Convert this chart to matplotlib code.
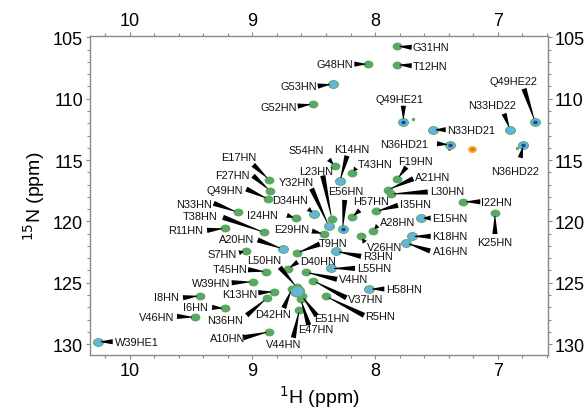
import matplotlib
matplotlib.use('Agg')
import matplotlib.pyplot as plt
import numpy as np
from matplotlib.patches import Polygon
from matplotlib.path import Path
from matplotlib.transforms import Affine2D, IdentityTransform
from matplotlib.ticker import MultipleLocator

plt.rcParams['font.family'] = ['Liberation Sans', 'DejaVu Sans']

# assigned cross peaks (1H ppm, 15N ppm), colour group: g green, c blue, b blue + dark core
names = ['G31HN', 'T12HN', 'G48HN', 'G53HN', 'G52HN', 'Q49HE21', 'N33HD21', 'N33HD22',
         'Q49HE22', 'N36HD21', 'N36HD22', 'K14HN', 'S54HN', 'T43HN', 'F19HN', 'A21HN',
         'L30HN', 'I35HN', 'H57HN', 'E56HN', 'L23HN', 'Y32HN', 'D34HN', 'I24HN',
         'E17HN', 'F27HN', 'Q49HN', 'N33HN', 'T38HN', 'R11HN', 'E29HN', 'A20HN',
         'T9HN', 'S7HN', 'L50HN', 'D40HN', 'T45HN', 'W39HN', 'K13HN', 'I8HN',
         'I6HN', 'V46HN', 'N36HN', 'D42HN', 'E51HN', 'E47HN', 'V44HN', 'A10HN',
         'W39HE1', 'R3HN', 'L55HN', 'V4HN', 'H58HN', 'V37HN', 'R5HN', 'V26HN',
         'A28HN', 'E15HN', 'K18HN', 'A16HN', 'I22HN', 'K25HN']
h_ppm = [7.824, 7.824, 8.055, 8.345, 8.508, 7.770, 7.531, 6.901,
         6.698, 7.390, 6.793, 8.286, 8.327, 8.188, 7.819, 7.893,
         7.873, 7.993, 8.191, 8.264, 8.353, 8.379, 8.495, 8.644,
         8.862, 8.856, 8.870, 9.119, 8.905, 9.222, 8.416, 8.752,
         8.638, 9.051, 8.638, 8.712, 8.888, 8.997, 8.821, 9.426,
         9.222, 9.467, 8.883, 8.679, 8.598, 8.606, 8.617, 8.862,
         10.259, 8.318, 8.359, 8.563, 8.047, 8.503, 8.400, 8.117,
         8.020, 7.629, 7.702, 7.748, 7.282, 7.024]
n_ppm = [105.73, 107.23, 107.18, 108.81, 110.44, 111.88, 112.53, 112.53,
         111.88, 113.75, 113.75, 116.69, 115.51, 116.06, 116.55, 117.42,
         117.77, 119.18, 119.67, 120.62, 119.77, 120.34, 119.40, 119.75,
         116.61, 117.50, 118.18, 119.26, 120.89, 120.57, 121.03, 122.25,
         122.58, 122.39, 125.37, 123.88, 124.10, 124.92, 125.73, 126.06,
         127.09, 127.82, 126.27, 125.51, 126.06, 126.33, 127.20, 128.99,
         129.81, 122.44, 123.83, 124.15, 125.51, 124.84, 126.11, 121.22,
         120.76, 119.73, 121.22, 121.76, 118.40, 119.32]
kind = ['g', 'g', 'g', 'c', 'g', 'b', 'c', 'c',
        'b', 'b', 'b', 'c', 'g', 'g', 'g', 'g',
        'g', 'g', 'g', 'b', 'g', 'c', 'c', 'g',
        'g', 'g', 'g', 'g', 'g', 'g', 'g', 'c',
        'g', 'g', 'g', 'g', 'g', 'g', 'g', 'g',
        'g', 'g', 'g', 'g', 'g', 'g', 'g', 'g',
        'c', 'c', 'c', 'g', 'c', 'g', 'g', 'g',
        'g', 'c', 'c', 'c', 'g', 'g']

# unassigned peaks
extra_h = [7.694, 7.208, 6.844, 7.398, 8.640]
extra_n = [111.66, 114.10, 114.02, 114.10, 125.70]
extra_kind = ['small', 'orange', 'small', 'red', 'cluster']

# label placement: text offset (px), alignment, leader base offset (px); y down
label_pos = {
    'G31HN': (16, 1, 'left', 15, 1), 'T12HN': (16, 1, 'left', 15, 1),
    'G48HN': (-15, 0, 'right', -14, 0), 'G53HN': (-16, 2, 'right', -15, 2),
    'G52HN': (-16, 3, 'right', -15, 2), 'Q49HE21': (-4, -23, 'center', 0, -16),
    'N33HD21': (14, 0, 'left', 13, 0), 'N33HD22': (-18, -25, 'center', -6, -16),
    'Q49HE22': (-22, -41, 'center', -11, -33), 'N36HD21': (-22, -1, 'right', -13, -1),
    'N36HD22': (-8, 26, 'center', -3, 13), 'K14HN': (12, -32, 'center', 7, -25),
    'S54HN': (-29, -16, 'center', -6, -7), 'T43HN': (23, -9, 'center', 4, -5),
    'F19HN': (18, -18, 'center', 9, -12), 'A21HN': (27, -13, 'left', 25, -11),
    'L30HN': (39, -3, 'left', 37, -2), 'I35HN': (24, -7, 'left', 22, -6),
    'H57HN': (19, -16, 'center', 8, -7), 'E56HN': (3, -38, 'center', 2, -29),
    'L23HN': (-16, -48, 'center', -9, -43), 'Y32HN': (-32, -44, 'center', -17, -37),
    'D34HN': (-24, -14, 'center', -6, -5), 'I24HN': (-34, -3, 'center', -9, -3),
    'E17HN': (-31, -23, 'center', -16, -15), 'F27HN': (-38, -16, 'center', -17, -15),
    'Q49HN': (-44, -9, 'center', -22, -10), 'N33HN': (-44, -8, 'center', -24, -9),
    'T38HN': (-64, -16, 'center', -41, -15), 'R11HN': (-39, 2, 'center', -18, 2),
    'E29HN': (-32, -5, 'center', -12, -3), 'A20HN': (-46, -10, 'center', -25, -9),
    'T9HN': (36, -10, 'center', 23, -9), 'S7HN': (-24, 3, 'center', -7, 2),
    'L50HN': (-33, -27, 'center', -17, -20), 'D40HN': (30, -8, 'center', 10, -7),
    'T45HN': (-36, -3, 'center', -18, -2), 'W39HN': (-42, 1, 'center', -21, 1),
    'K13HN': (-35, 2, 'center', -16, 1), 'I8HN': (-34, 1, 'center', -17, 2),
    'I6HN': (-30, -1, 'center', -13, -1), 'V46HN': (-38, 0, 'center', -18, -1),
    'N36HN': (-42, 22, 'center', -20, 17), 'D42HN': (-19, 25, 'center', -8, 19),
    'E51HN': (30, 22, 'center', 15, 20), 'E47HN': (15, 30, 'center', 8, 26),
    'V44HN': (-16, 34, 'center', -6, 28), 'A10HN': (-42, 6, 'center', -26, 6),
    'W39HE1': (17, 0, 'left', 15, 0), 'R3HN': (27, 5, 'left', 25, 5),
    'L55HN': (26, 0, 'left', 24, 0), 'V4HN': (33, 7, 'left', 31, 7),
    'H58HN': (17, 0, 'left', 15, 0), 'V37HN': (35, 18, 'left', 33, 17),
    'R5HN': (39, 20, 'left', 38, 19), 'V26HN': (6, 11, 'left', 4, 6),
    'A28HN': (7, -9, 'left', 5, -5), 'E15HN': (11, 0, 'left', 10, 0),
    'K18HN': (20, 0, 'left', 19, 0), 'A16HN': (27, 8, 'left', 24, 8),
    'I22HN': (18, 0, 'left', 17, 0), 'K25HN': (0, 29, 'center', 0, 21),
}

green = '#5aa862'
blue = '#66b4dc'
dark = '#1a4a9a'
oval = Path.unit_circle().transformed(Affine2D().scale(1.0, 0.8))

fig = plt.figure(figsize=(5.85, 4.14), dpi=100)
ax = fig.add_axes([90 / 585, 1 - 356 / 414, 458 / 585, 319 / 414])
ax.set_xlim(10.322, 6.592)
ax.set_ylim(130.89, 104.89)

h = np.array(h_ppm)
n = np.array(n_ppm)
k = np.array(kind)

# peaks
ax.scatter(h, n, s=50, marker=oval, color=green, lw=0, zorder=2)
m = k != 'g'
ax.scatter(h[m], n[m], s=62, marker=oval, color=green, lw=0, zorder=2)
ax.scatter(h[m], n[m], s=42, marker=oval, color=blue, lw=0, zorder=3)
m = k == 'b'
ax.scatter(h[m], n[m], s=11, marker=oval, color=dark, lw=0, zorder=4)

for eh, en, ek in zip(extra_h, extra_n, extra_kind):
    if ek == 'small':
        ax.scatter(eh, en, s=6, marker='o', color=green, lw=0, zorder=2)
    elif ek == 'orange':
        ax.scatter(eh, en, s=40, marker=oval, color='#f0b030', lw=0, zorder=2)
        ax.scatter(eh, en, s=10, marker=oval, color='#e07020', lw=0, zorder=3)
    elif ek == 'red':
        ax.scatter(eh, en, s=5, marker='o', color='#e05030', lw=0, zorder=2)
    else:
        ax.scatter(eh, en, s=120, marker=oval, color=green, lw=0, zorder=2)
        ax.scatter(eh, en, s=75, marker=oval, color=blue, lw=0, zorder=3)

# labels with tapered leaders
for name, hh, nn in zip(names, h_ppm, n_ppm):
    lx, ly, ha, bx, by = label_pos[name]
    ax.annotate(name, xy=(hh, nn), xytext=(lx, -ly), textcoords='offset pixels',
                ha=ha, va='center', fontsize=7.9, color='#111111', zorder=6)
    p = ax.transData.transform((hh, nn))
    b = p + np.array([bx, -by])
    d = p - b
    length = np.hypot(*d)
    if length < 1:
        continue
    d = d / length
    tip = p - d * 3.0
    nrm = np.array([-d[1], d[0]])
    pts = [b + nrm * 2.6, b - nrm * 2.6, tip - nrm * 0.4, tip + nrm * 0.4]
    fig.add_artist(Polygon(pts, closed=True, color='black', lw=0,
                           transform=IdentityTransform(), zorder=5))

# axes styling
ax.xaxis.set_major_locator(MultipleLocator(1))
ax.xaxis.set_minor_locator(MultipleLocator(0.2))
ax.yaxis.set_major_locator(MultipleLocator(5))
ax.yaxis.set_minor_locator(MultipleLocator(1))
ax.tick_params(which='both', direction='out', top=True, right=True,
               labeltop=True, labelright=True, color='#8a8a8a', labelsize=13, pad=2)
ax.tick_params(which='major', length=3, width=0.8)
ax.tick_params(which='minor', length=2, width=0.8)
for sp in ax.spines.values():
    sp.set_color('#8a8a8a')
    sp.set_linewidth(1.0)

ax.set_xlabel('$^{1}$H (ppm)', fontsize=14, labelpad=3)
ax.set_ylabel('$^{15}$N (ppm)', fontsize=14, labelpad=4)

fig.savefig('out.png', dpi=100)
